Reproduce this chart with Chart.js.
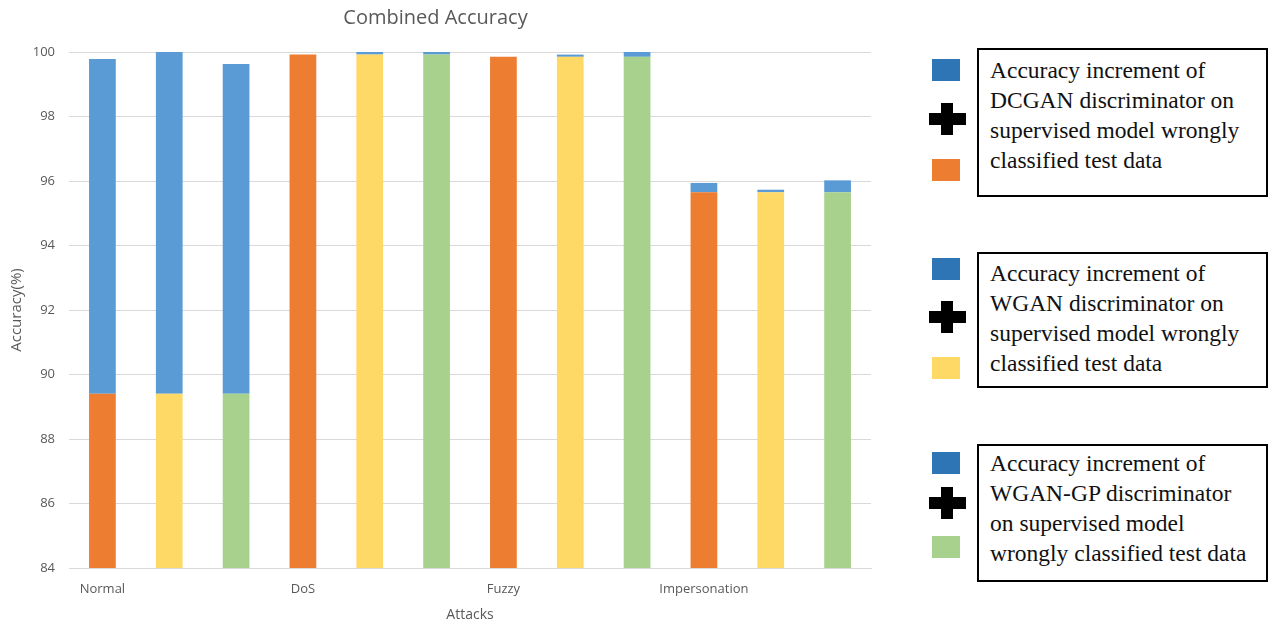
<!DOCTYPE html>
<html lang="en">
<head>
    <meta charset="UTF-8">
    <title>Combined Accuracy</title>
    <script src="https://cdn.jsdelivr.net/npm/chart.js"></script>
    <style>
        body { margin: 0; background: #fff; }
        .janela { position: relative; width: 1278px; height: 624px; overflow: hidden; }
        .grafico { position: absolute; left: 0; top: 0; width: 882px; height: 624px; }
        .caixa { position: absolute; left: 977px; width: 291px; border: 2px solid #000; box-sizing: border-box; }
        .texto { position: absolute; left: 11px; font-family: "Liberation Serif", "Times New Roman", serif; font-size: 23.5px; line-height: 30px; color: #111; white-space: nowrap; }
        .quadrado { position: absolute; left: 932px; width: 28px; height: 22px; }
        .mais { position: absolute; left: 929px; width: 37px; height: 32px; }
        .mais::before { content: ""; position: absolute; left: 0; top: 10px; width: 37px; height: 12px; background: #000; }
        .mais::after { content: ""; position: absolute; left: 12px; top: 0; width: 12px; height: 32px; background: #000; }
    </style>
</head>
<body>
<div class="janela">
    <div class="grafico"><canvas id="myChart"></canvas></div>

    <div class="quadrado" style="top:59px;background:#2E75B6"></div>
    <div class="mais" style="top:103px"></div>
    <div class="quadrado" style="top:159px;background:#ED7D31"></div>
    <div class="caixa" style="top:48px;height:149px">
        <div class="texto" style="top:5px">Accuracy increment of<br>DCGAN discriminator on<br>supervised model wrongly<br>classified test data</div>
    </div>

    <div class="quadrado" style="top:258px;background:#2E75B6"></div>
    <div class="mais" style="top:301px"></div>
    <div class="quadrado" style="top:357px;background:#FFD966"></div>
    <div class="caixa" style="top:252px;height:136px">
        <div class="texto" style="top:4px">Accuracy increment of<br>WGAN discriminator on<br>supervised model wrongly<br>classified test data</div>
    </div>

    <div class="quadrado" style="top:452px;background:#2E75B6"></div>
    <div class="mais" style="top:487px"></div>
    <div class="quadrado" style="top:536px;background:#A9D18E"></div>
    <div class="caixa" style="top:444px;height:138px">
        <div class="texto" style="top:2px">Accuracy increment of<br>WGAN-GP discriminator<br>on supervised model<br>wrongly classified test data</div>
    </div>
</div>

<script>
    // categorias (12 barras, rotulo a cada 3)
    const categorias = ['Normal', '', '', 'DoS', '', '', 'Fuzzy', '', '', 'Impersonation', '', ''];

    // acuracia base do modelo supervisionado (%)
    const baseDCGAN  = [89.40, null, null, 99.92, null, null, 99.85, null, null, 95.65, null, null];
    const baseWGAN   = [null, 89.40, null, null, 99.92, null, null, 99.85, null, null, 95.65, null];
    const baseWGANGP = [null, null, 89.40, null, null, 99.92, null, null, 99.85, null, null, 95.65];

    // incremento dado pelo discriminador (%)
    const incremento = [10.38, 10.60, 10.23, 0, 0.08, 0.08, 0, 0.07, 0.15, 0.29, 0.08, 0.37];

    const yTicks = [84, 86, 88, 90, 92, 94, 96, 98, 100];

    const cinza = '#595959';

    const ctx = document.getElementById('myChart');

    new Chart(ctx, {
        type: 'bar',
        data: {
            labels: categorias,
            datasets: [{
                label: 'DCGAN',
                backgroundColor: '#ED7D31',
                data: baseDCGAN
            },
            {
                label: 'WGAN',
                backgroundColor: '#FFD966',
                data: baseWGAN
            },
            {
                label: 'WGAN-GP',
                backgroundColor: '#A9D18E',
                data: baseWGANGP
            },
            {
                label: 'Incremento',
                backgroundColor: '#5B9BD5',
                data: incremento
            }]
        },
        options: {
            responsive: true,
            maintainAspectRatio: false,
            animation: false,
            categoryPercentage: 0.4,
            barPercentage: 1,
            layout: { padding: { left: 0, right: 11, top: 0, bottom: 0 } },
            plugins: {
                legend: { display: false },
                tooltip: { enabled: false },
                title: {
                    display: true,
                    text: 'Combined Accuracy',
                    color: cinza,
                    font: { family: 'Open Sans', size: 20, weight: 'normal' },
                    padding: { top: 6, bottom: 22 }
                }
            },
            scales: {
                x: {
                    stacked: true,
                    grid: { display: false },
                    border: { color: '#D9D9D9' },
                    ticks: {
                        color: cinza,
                        font: { family: 'Open Sans', size: 13 },
                        padding: 5,
                        autoSkip: false,
                        maxRotation: 0
                    },
                    title: {
                        display: true,
                        text: 'Attacks',
                        color: cinza,
                        font: { family: 'Open Sans', size: 14 },
                        padding: { top: 0, bottom: 1 }
                    },
                    afterFit: s => { s.height = 56; }
                },
                y: {
                    stacked: true,
                    min: 84,
                    max: 100,
                    afterBuildTicks: s => { s.ticks = yTicks.map(v => ({ value: v })); },
                    grid: { color: '#D9D9D9', drawTicks: false },
                    border: { display: false },
                    ticks: {
                        color: cinza,
                        font: { family: 'Open Sans', size: 13 },
                        padding: 14
                    },
                    title: {
                        display: true,
                        text: 'Accuracy(%)',
                        color: cinza,
                        font: { family: 'Open Sans', size: 15 },
                        padding: { top: 8, bottom: 0 }
                    },
                    afterFit: s => { s.width = 69; }
                }
            }
        }
    });
</script>
</body>
</html>
